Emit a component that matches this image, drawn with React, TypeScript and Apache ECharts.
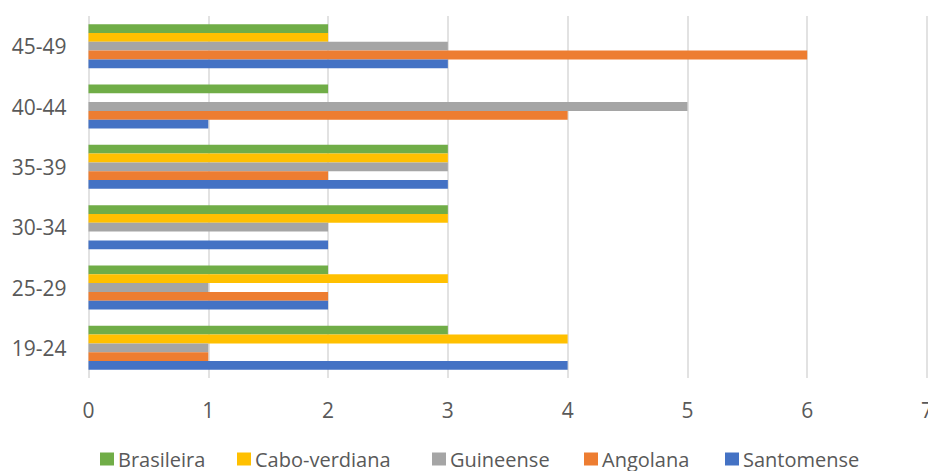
import React, { useEffect, useRef } from "react";
import * as echarts from "echarts";

const categories = ["19-24", "25-29", "30-34", "35-39", "40-44", "45-49"];
const santomense = [4, 2, 2, 3, 1, 3];
const angolana = [1, 2, 0, 2, 4, 6];
const guineense = [1, 1, 2, 3, 5, 3];
const caboVerdiana = [4, 3, 3, 3, 0, 2];
const brasileira = [3, 2, 3, 3, 2, 2];
const xTicks = [0, 1, 2, 3, 4, 5, 6, 7];

// listed top-to-bottom within each category band
const seriesDefs = [
  { name: "Brasileira", data: brasileira, color: "#70AD47" },
  { name: "Cabo-verdiana", data: caboVerdiana, color: "#FFC000" },
  { name: "Guineense", data: guineense, color: "#A5A5A5" },
  { name: "Angolana", data: angolana, color: "#ED7D31" },
  { name: "Santomense", data: santomense, color: "#4472C4" },
];

const legendOrder = ["Brasileira", "Cabo-verdiana", "Guineense", "Angolana", "Santomense"];
const legendLeft = [100, 237, 432, 584, 725];

const FONT = "'Open Sans', sans-serif";
const TEXT = "#595959";

export default function App() {
  const ref = useRef<HTMLDivElement>(null);
  useEffect(() => {
    if (!ref.current) return;
    const chart = echarts.init(ref.current, undefined, { renderer: "svg" });
    chart.setOption({
      animation: false,
      backgroundColor: "#ffffff",
      grid: {
        left: 88.5,
        right: 1,
        top: 16,
        bottom: 93,
        containLabel: false,
        outerBoundsMode: "none",
      },
      xAxis: {
        type: "value",
        min: xTicks[0],
        max: xTicks[xTicks.length - 1],
        interval: 1,
        axisLine: { show: false },
        axisTick: { show: false },
        axisLabel: { color: TEXT, fontFamily: FONT, fontSize: 21, margin: 21 },
        splitLine: { show: true, lineStyle: { color: "#D9D9D9", width: 1.5 } },
      },
      yAxis: {
        type: "category",
        data: categories,
        axisLine: { show: false },
        axisTick: { show: false },
        axisLabel: { color: TEXT, fontFamily: FONT, fontSize: 21, margin: 22 },
        splitLine: { show: false },
      },
      legend: legendOrder.map((name, i) => ({
        data: [name],
        left: legendLeft[i],
        top: 449,
        padding: 0,
        itemWidth: 14,
        itemHeight: 13,
        itemGap: 5,
        icon: "rect",
        textStyle: { color: TEXT, fontFamily: FONT, fontSize: 20, padding: [0, 0, 0, -1] },
        selectedMode: false,
      })),
      series: seriesDefs.map((s) => ({
        type: "bar",
        name: s.name,
        data: s.data,
        itemStyle: { color: s.color },
        barGap: "0%",
        barCategoryGap: "27%",
      })),
    });
    return () => chart.dispose();
  }, []);
  return (
    <div
      ref={ref}
      style={{ position: "fixed", left: 0, top: 0, width: 928, height: 471 }}
    />
  );
}
